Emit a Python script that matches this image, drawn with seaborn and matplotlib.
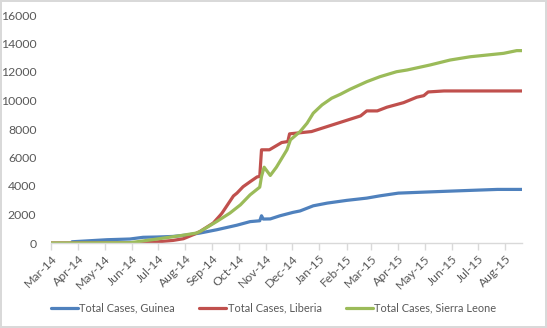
import matplotlib
matplotlib.use("Agg")
import matplotlib.pyplot as plt
import matplotlib.dates as mdates
import pandas as pd
import seaborn as sns

# Cumulative reported cases by country
guinea_dates = ["2014-03-25", "2014-05-04", "2014-05-30", "2014-06-14", "2014-06-30",
                "2014-07-18", "2014-08-03", "2014-08-18", "2014-09-06", "2014-09-29",
                "2014-10-14", "2014-10-25", "2014-10-27", "2014-10-29", "2014-11-06",
                "2014-11-17", "2014-12-02", "2014-12-10", "2014-12-25", "2015-01-10",
                "2015-02-01", "2015-02-24", "2015-03-11", "2015-04-01", "2015-04-30",
                "2015-05-30", "2015-06-30", "2015-07-23", "2015-08-20"]
guinea_cases = [86, 230, 280, 400, 420,
                460, 560, 700, 930, 1250,
                1500, 1560, 1910, 1680, 1690,
                1910, 2150, 2250, 2610, 2800,
                2990, 3150, 3310, 3500, 3570,
                3640, 3710, 3760, 3760]

liberia_dates = ["2014-03-01", "2014-06-03", "2014-06-30", "2014-07-18", "2014-07-30",
                 "2014-08-10", "2014-08-18", "2014-08-21", "2014-09-02", "2014-09-10",
                 "2014-09-12", "2014-09-25", "2014-09-29", "2014-10-06", "2014-10-14",
                 "2014-10-22", "2014-10-25", "2014-10-27", "2014-11-05", "2014-11-19",
                 "2014-11-26", "2014-11-28", "2014-12-23", "2015-02-17", "2015-02-24",
                 "2015-03-08", "2015-03-19", "2015-04-07", "2015-04-22", "2015-04-30",
                 "2015-05-05", "2015-05-23", "2015-08-20"]
liberia_cases = [0, 15, 80, 180, 300,
                 580, 810, 930, 1400, 1950,
                 2100, 3300, 3500, 3950, 4300,
                 4640, 4670, 6540, 6540, 7050,
                 7120, 7660, 7820, 8920, 9270,
                 9270, 9530, 9850, 10230, 10340,
                 10600, 10670, 10670]

sierra_dates = ["2014-03-01", "2014-05-30", "2014-06-30", "2014-07-26", "2014-08-14",
                "2014-08-18", "2014-09-06", "2014-09-21", "2014-10-03", "2014-10-14",
                "2014-10-25", "2014-10-27", "2014-10-30", "2014-11-06", "2014-11-13",
                "2014-11-25", "2014-11-29", "2014-12-10", "2014-12-18", "2014-12-25",
                "2015-01-04", "2015-01-15", "2015-01-25", "2015-02-05", "2015-02-24",
                "2015-03-11", "2015-03-30", "2015-04-11", "2015-05-07", "2015-05-30",
                "2015-06-22", "2015-07-11", "2015-07-30", "2015-08-14", "2015-08-20"]
sierra_cases = [0, 20, 280, 510, 700,
                810, 1510, 2100, 2680, 3380,
                3920, 4670, 5320, 4740, 5320,
                6540, 7240, 7820, 8410, 9110,
                9690, 10160, 10440, 10790, 11320,
                11670, 12020, 12140, 12490, 12840,
                13070, 13190, 13310, 13500, 13500]

series_names = ["Total Cases, Guinea", "Total Cases, Liberia", "Total Cases, Sierra Leone"]
series_colors = ["#4F81BD", "#C0504D", "#9BBB59"]

frames = []
for name, dates, cases in zip(series_names,
                              [guinea_dates, liberia_dates, sierra_dates],
                              [guinea_cases, liberia_cases, sierra_cases]):
    frames.append(pd.DataFrame({"date": pd.to_datetime(dates), "cases": cases, "series": name}))
df = pd.concat(frames, ignore_index=True)

sns.set_style("white")
plt.rcParams["font.family"] = ["Lato", "DejaVu Sans"]

fig = plt.figure(figsize=(5.47, 3.28), dpi=100)
fig.patch.set_facecolor("white")
fig.patch.set_edgecolor("#D9D9D9")
fig.patch.set_linewidth(1.5)
ax = fig.add_axes([51 / 547, 1 - 243 / 328, (522 - 51) / 547, (243 - 15) / 328])

sns.lineplot(data=df, x="date", y="cases", hue="series", hue_order=series_names,
             palette=series_colors, linewidth=2.3, ax=ax, estimator=None, sort=True)

ax.set_xlim(pd.Timestamp("2014-03-01"), pd.Timestamp("2015-08-20"))
ax.set_ylim(0, 16000)
ax.set_yticks(range(0, 16001, 2000))
ax.xaxis.set_major_locator(mdates.MonthLocator())
ax.xaxis.set_major_formatter(mdates.DateFormatter("%b-%y"))
ax.set_xlabel("")
ax.set_ylabel("")

text_color = "#595959"
fs = 8.8
for side in ["top", "right", "left"]:
    ax.spines[side].set_visible(False)
ax.spines["bottom"].set_color("#D9D9D9")
ax.spines["bottom"].set_linewidth(1.0)
ax.tick_params(axis="x", bottom=True, length=5, width=1, color="#D9D9D9",
               labelsize=fs, labelcolor=text_color, pad=2)
ax.tick_params(axis="y", left=False, labelsize=fs, labelcolor=text_color, pad=7)
for lbl in ax.get_xticklabels():
    lbl.set_rotation(45)
    lbl.set_ha("right")
    lbl.set_rotation_mode("anchor")

ax.legend_.remove()
handles, labels = ax.get_legend_handles_labels()
fig.legend(handles, labels, loc="center", bbox_to_anchor=(0.5, 1 - 308 / 328), ncol=3,
           frameon=False, fontsize=7.9, labelcolor=text_color, handlelength=2.5,
           handletextpad=0.1, columnspacing=2.2)

fig.savefig("out.png", dpi=100)
